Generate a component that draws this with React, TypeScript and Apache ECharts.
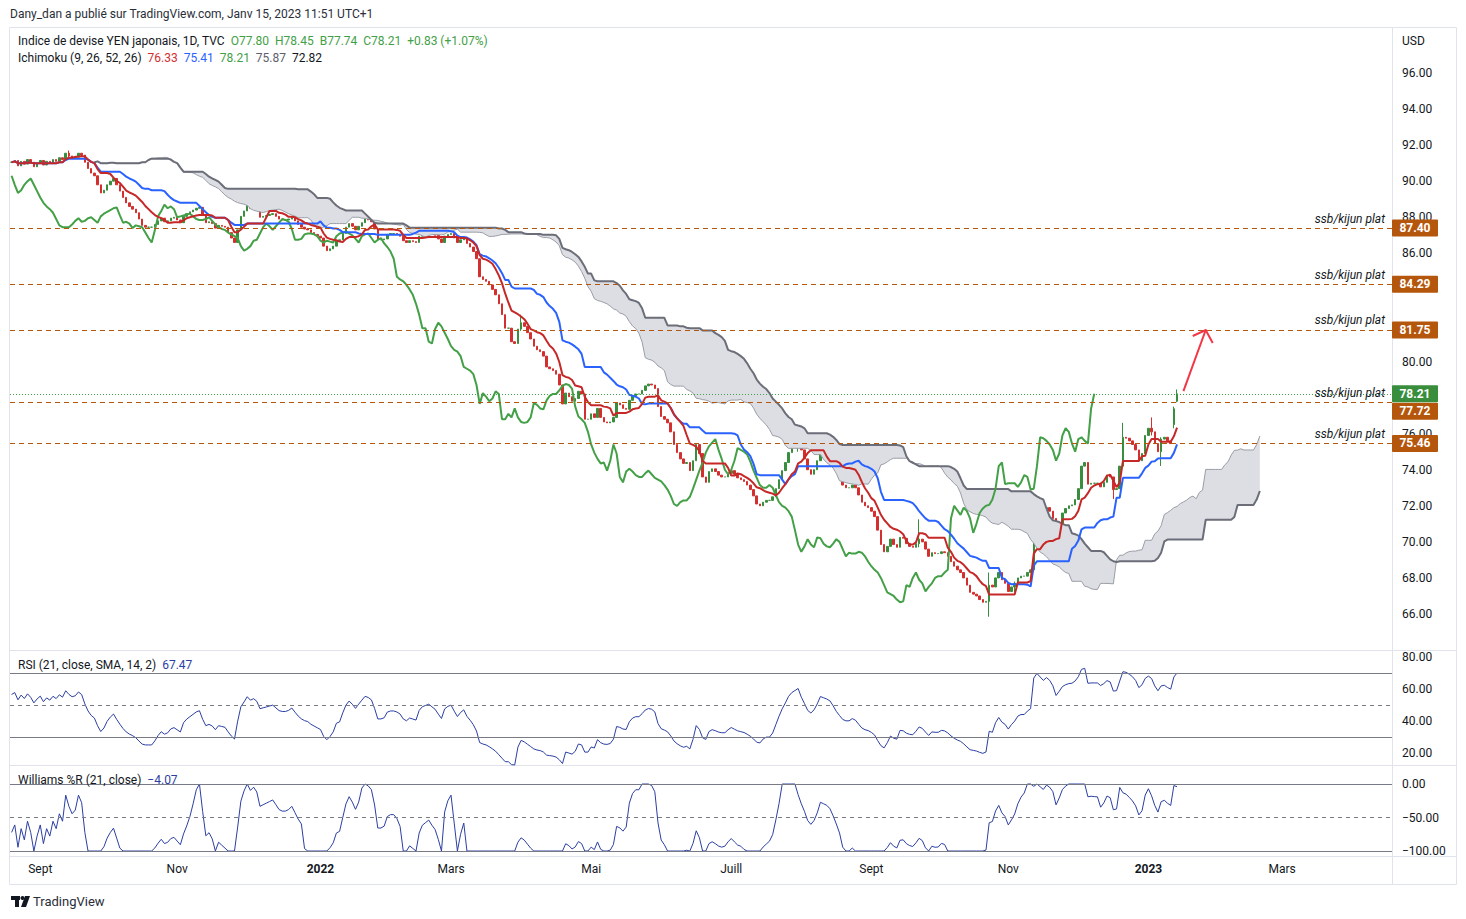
import React, { useEffect, useRef } from 'react';
import * as echarts from 'echarts';

// ---------- data ----------
const START_DATE = '2021-08-19';
const FUTURE_BARS = 67;

const closes: number[] = [
  91.05, 91.15, 90.85, 91.1, 90.95, 91.2, 91.05, 90.8, 91.0, 91.15,
  90.9, 91.1, 91.0, 91.2, 91.1, 91.3, 91.2, 91.55, 91.4, 91.3,
  91.35, 91.55, 91.45, 91.05, 90.7, 90.45, 90.3, 89.8, 89.35, 89.5,
  89.8, 90.0, 90.15, 89.8, 89.45, 89.1, 88.8, 88.6, 88.45, 88.25,
  87.9, 87.55, 87.45, 87.45, 87.45, 87.6, 87.8, 87.95, 87.75, 87.8,
  87.95, 88.0, 87.85, 87.7, 88.05, 88.2, 88.3, 88.4, 88.5, 88.55,
  88.1, 87.7, 87.75, 87.65, 87.4, 87.55, 87.5, 87.45, 87.15, 86.85,
  86.6, 87.3, 88.05, 88.35, 88.7, 88.5, 88.6, 88.45, 88.0, 88.05,
  88.1, 88.15, 88.2, 88.05, 87.9, 87.85, 87.85, 87.9, 88.0, 87.8,
  87.6, 87.45, 87.35, 87.3, 87.15, 87.05, 86.95, 86.85, 86.4, 86.15,
  86.25, 86.4, 86.7, 86.75, 87.1, 87.45, 87.65, 87.5, 87.3, 87.5,
  87.7, 87.9, 87.85, 87.75, 87.35, 86.75, 86.75, 86.8, 87.05, 87.1,
  87.1, 87.05, 86.95, 86.7, 86.6, 86.7, 86.65, 86.6, 86.95, 87.1,
  87.15, 87.2, 87.1, 87.0, 86.8, 86.6, 86.95, 87.05, 87.1, 86.85,
  86.6, 86.75, 86.85, 86.55, 86.35, 86.1, 85.7, 84.7, 84.55, 84.45,
  84.25, 84.0, 83.7, 83.2, 82.6, 81.85, 81.85, 81.1, 81.0, 81.8,
  82.15, 81.95, 81.6, 81.25, 80.85, 80.65, 80.55, 80.3, 79.7, 79.6,
  79.5, 79.3, 78.7, 77.65, 78.25, 78.05, 77.8, 77.95, 78.35, 78.2,
  76.8, 76.8, 77.1, 76.9, 77.4, 76.9, 76.65, 76.6, 76.65, 76.9,
  77.7, 77.6, 77.4, 77.35, 77.85, 78.1, 78.2, 78.2, 78.4, 78.65,
  78.75, 78.7, 78.5, 77.5, 76.95, 76.8, 76.6, 76.1, 75.4, 74.95,
  74.6, 74.35, 74.4, 73.95, 74.5, 75.4, 74.9, 73.6, 73.3, 73.9,
  74.05, 73.9, 73.7, 73.6, 73.6, 73.8, 73.95, 73.75, 73.55, 73.45,
  73.35, 73.15, 72.9, 72.55, 72.1, 72.0, 72.2, 72.3, 72.3, 72.5,
  72.95, 73.45, 73.95, 74.4, 74.95, 75.3, 75.5, 75.7, 75.1, 74.6,
  74.0, 73.75, 74.0, 74.5, 75.2, 75.1, 75.0, 74.85, 74.45, 73.95,
  73.55, 73.15, 73.0, 73.0, 73.15, 73.0, 72.6, 72.2, 72.0, 71.9,
  71.7, 71.4, 70.65, 69.85, 69.45, 69.75, 70.15, 69.85, 69.7, 70.25,
  70.2, 69.9, 69.75, 69.7, 69.9, 70.15, 70.0, 69.6, 69.2, 69.4,
  69.35, 69.35, 69.45, 69.4, 69.2, 68.9, 68.65, 68.45, 68.3, 68.0,
  67.6, 67.2, 67.1, 67.0, 66.8, 66.65, 66.7, 67.6, 67.5, 68.0,
  68.3, 67.9, 67.7, 67.25, 67.5, 67.7, 68.0, 68.1, 68.1, 68.3,
  68.45, 71.3, 72.0, 71.75, 71.5, 71.9, 71.7, 71.3, 70.5, 71.0,
  71.6, 71.85, 72.0, 72.05, 72.35, 72.95, 74.2, 74.4, 73.2, 73.25,
  73.25, 73.25, 73.05, 73.3, 73.7, 73.6, 72.9, 72.95, 74.2, 75.8,
  75.75, 75.6, 75.4, 75.1, 74.5, 74.9, 75.9, 76.3, 76.1, 75.45,
  75.0, 75.7, 75.8, 75.6, 75.45, 77.38, 78.21,
];

// visible wicks / opens: [bar, open (null = previous close), high, low]
const candleExtremes: Array<[number, number | null, number, number]> = [
  [18, null, 91.7, 91.2],
  [160, null, 82.6, 81.7],
  [247, null, 76.4, 75.0],
  [285, null, 71.25, 69.7],
  [307, null, 68.3, 65.85],
  [315, null, 67.8, 67.19],
  [321, null, 71.5, 68.4],
  [346, null, 73.6, 72.37],
  [349, null, 76.6, 74.2],
  [358, null, 76.9, 75.9],
  [361, null, 75.8, 74.21],
  [365, 76.5, 77.5, 76.3],
  [366, 77.8, 78.45, 77.74],
];

const levelValues = [87.4, 84.29, 81.75, 77.72, 75.46];
const levelLabels = ['87.40', '84.29', '81.75', '77.72', '75.46'];
const levelNote = 'ssb/kijun plat';
const lastClose = 78.21;
const lastCloseLabel = '78.21';
// price-scale ticks hidden behind the level boxes in the reference
const hiddenPriceTicks = [84, 82, 78];

const monthLabels: Array<[string, string, boolean]> = [
  ['2021-09', 'Sept', false], ['2021-11', 'Nov', false], ['2022-01', '2022', true],
  ['2022-03', 'Mars', false], ['2022-05', 'Mai', false], ['2022-07', 'Juill', false],
  ['2022-09', 'Sept', false], ['2022-11', 'Nov', false], ['2023-01', '2023', true],
  ['2023-03', 'Mars', false],
];

const rsiBands = [70, 50, 30];
const wprBands = [0, -50, -100];
const arrowFrom: [number, number] = [368, 78.36];
const arrowTo: [number, number] = [375, 81.75];

// ---------- styles ----------
const FONT = 'Roboto, "Liberation Sans", Arial, sans-serif';
const TXT = '#131722';
const ORANGE = '#b5560d';
const GREEN = '#43a047';
const CANDLE_UP = '#388e3c';
const CANDLE_DOWN = '#d32f2f';
const RED_LINE = '#c62828';
const BLUE_LINE = '#2962ff';
const IND_BLUE = '#2b3fa3';
const BAND = '#787b86';
const FRAME = '#e0e3eb';
const NB = '\u00a0\u00a0';

// ---------- helpers ----------
function buildDates(start: string, count: number): string[] {
  const out: string[] = [];
  const d = new Date(start + 'T00:00:00Z');
  while (out.length < count) {
    const wd = d.getUTCDay();
    if (wd !== 0 && wd !== 6) out.push(d.toISOString().slice(0, 10));
    d.setUTCDate(d.getUTCDate() + 1);
  }
  return out;
}

function buildChart() {
  const N = closes.length;
  const T = N + FUTURE_BARS;
  const dates = buildDates(START_DATE, T);

  const opens = closes.map((c, i) => (i === 0 ? c : closes[i - 1]));
  const highs = closes.map((c, i) => Math.max(c, opens[i]));
  const lows = closes.map((c, i) => Math.min(c, opens[i]));
  for (const [b, o, h, l] of candleExtremes) {
    if (o !== null) opens[b] = o;
    highs[b] = Math.max(h, opens[b], closes[b]);
    lows[b] = Math.min(l, opens[b], closes[b]);
  }

  const mid = (i: number, p: number) => {
    const s = Math.max(0, i - p + 1);
    let hh = -Infinity, ll = Infinity;
    for (let k = s; k <= i; k++) { hh = Math.max(hh, highs[k]); ll = Math.min(ll, lows[k]); }
    return (hh + ll) / 2;
  };

  const tenkan: (number | null)[] = [];
  const kijun: (number | null)[] = [];
  const spanA: (number | null)[] = new Array(T).fill(null);
  const spanB: (number | null)[] = new Array(T).fill(null);
  const chikou: (number | null)[] = new Array(T).fill(null);
  for (let i = 0; i < N; i++) {
    const t = mid(i, 9), k = mid(i, 26);
    tenkan.push(t); kijun.push(k);
    spanA[i + 26] = (t + k) / 2;
    spanB[i + 26] = mid(i, 52);
    if (i >= 26) chikou[i - 26] = closes[i];
  }
  const cloudBase = spanA.map((a, i) => (a === null || spanB[i] === null ? null : Math.min(a, spanB[i] as number)));
  const cloudDiff = spanA.map((a, i) => (a === null || spanB[i] === null ? null : Math.abs(a - (spanB[i] as number))));

  // RSI 21 (Wilder) with a seeded warm-up
  const len = 21;
  const rsi: (number | null)[] = new Array(N).fill(null);
  let ag = 0, al = 0;
  for (let i = 1; i <= len; i++) {
    const d = closes[i] - closes[i - 1];
    ag += Math.max(d, 0); al += Math.max(-d, 0);
  }
  ag /= len; al /= len;
  rsi[0] = al === 0 ? 100 : 100 - 100 / (1 + ag / al);
  for (let i = 1; i < N; i++) {
    const d = closes[i] - closes[i - 1];
    ag = (ag * (len - 1) + Math.max(d, 0)) / len;
    al = (al * (len - 1) + Math.max(-d, 0)) / len;
    rsi[i] = al === 0 ? 100 : 100 - 100 / (1 + ag / al);
  }

  // Williams %R 21 (first bars use the first full window)
  const wpr: number[] = [];
  for (let i = 0; i < N; i++) {
    const e = Math.max(i, len - 1);
    const s = e - len + 1;
    let hh = -Infinity, ll = Infinity;
    for (let k = s; k <= e; k++) { hh = Math.max(hh, highs[k]); ll = Math.min(ll, lows[k]); }
    wpr.push(hh === ll ? -50 : ((hh - closes[i]) / (hh - ll)) * -100);
  }

  const candles = closes.map((c, i) => [opens[i], c, lows[i], highs[i]]);

  const labelByDate = new Map<string, { text: string; bold: boolean }>();
  for (const [ym, text, bold] of monthLabels) {
    const d = dates.find((x) => x.startsWith(ym));
    if (d) labelByDate.set(d, { text, bold });
  }

  const axisLabelBase = { color: TXT, fontSize: 12, fontFamily: FONT };
  const lineBase = { type: 'line', symbol: 'none', silent: true, animation: false };

  const option: any = {
    animation: false,
    backgroundColor: '#ffffff',
    grid: [
      { left: 10, right: 74, top: 73, height: 541, outerBoundsMode: 'none' },
      { left: 10, right: 74, top: 657, height: 96, outerBoundsMode: 'none' },
      { left: 10, right: 74, top: 784, height: 67, outerBoundsMode: 'none' },
    ],
    xAxis: [0, 1, 2].map((g) => ({
      type: 'category',
      gridIndex: g,
      data: dates,
      boundaryGap: true,
      show: g === 2,
      axisLine: { show: false },
      axisTick: { show: false },
      splitLine: { show: false },
      axisLabel: g === 2
        ? {
            ...axisLabelBase,
            margin: 12,
            interval: (_i: number, v: string) => labelByDate.has(v),
            formatter: (v: string) => {
              const m = labelByDate.get(v);
              if (!m) return '';
              return m.bold ? `{b|${m.text}}` : m.text;
            },
            rich: { b: { fontWeight: 'bold', fontSize: 12, fontFamily: FONT, color: TXT } },
          }
        : { show: false },
    })),
    yAxis: [
      {
        type: 'value', gridIndex: 0, position: 'right', min: 66, max: 96, interval: 2,
        splitLine: { show: false }, axisLine: { show: false }, axisTick: { show: false },
        axisLabel: {
          ...axisLabelBase, margin: 10,
          formatter: (v: number) => (hiddenPriceTicks.includes(v) ? '' : v.toFixed(2)),
        },
      },
      {
        type: 'value', gridIndex: 1, position: 'right', min: 20, max: 80, interval: 20,
        splitLine: { show: false }, axisLine: { show: false }, axisTick: { show: false },
        axisLabel: { ...axisLabelBase, margin: 10, formatter: (v: number) => v.toFixed(2) },
      },
      {
        type: 'value', gridIndex: 2, position: 'right', min: -100, max: 0, interval: 50,
        splitLine: { show: false }, axisLine: { show: false }, axisTick: { show: false },
        axisLabel: {
          ...axisLabelBase, margin: 10,
          formatter: (v: number) => (v < 0 ? '\u2212' + Math.abs(v).toFixed(2) : v.toFixed(2)),
        },
      },
    ],
    series: [
      { ...lineBase, name: 'cloudBase', xAxisIndex: 0, yAxisIndex: 0, stack: 'cloud', data: cloudBase, lineStyle: { opacity: 0 } },
      { ...lineBase, name: 'cloudFill', xAxisIndex: 0, yAxisIndex: 0, stack: 'cloud', data: cloudDiff, lineStyle: { opacity: 0 }, areaStyle: { color: '#dcdee3', opacity: 1 } },
      { ...lineBase, name: 'spanA', xAxisIndex: 0, yAxisIndex: 0, data: spanA, lineStyle: { color: '#9a9da6', width: 1 } },
      { ...lineBase, name: 'spanB', xAxisIndex: 0, yAxisIndex: 0, data: spanB, lineStyle: { color: '#6b6e78', width: 2 } },
      { ...lineBase, name: 'chikou', xAxisIndex: 0, yAxisIndex: 0, data: chikou, lineStyle: { color: GREEN, width: 2 } },
      { ...lineBase, name: 'kijun', xAxisIndex: 0, yAxisIndex: 0, data: kijun, lineStyle: { color: BLUE_LINE, width: 2 } },
      { ...lineBase, name: 'tenkan', xAxisIndex: 0, yAxisIndex: 0, data: tenkan, lineStyle: { color: RED_LINE, width: 2 } },
      {
        type: 'candlestick', name: 'price', xAxisIndex: 0, yAxisIndex: 0, data: candles,
        barWidth: 2, clip: false, silent: true, animation: false,
        itemStyle: { color: CANDLE_UP, color0: CANDLE_DOWN, borderColor: CANDLE_UP, borderColor0: CANDLE_DOWN, borderWidth: 1 },
        markLine: {
          silent: true, symbol: ['none', 'none'], animation: false, label: { show: false },
          data: [
            ...levelValues.map((v) => ({ yAxis: v, lineStyle: { color: ORANGE, type: [5, 4], width: 1.2 } })),
            { yAxis: lastClose, lineStyle: { color: GREEN, type: [1, 2], width: 1 } },
          ],
        },
      },
      {
        ...lineBase, name: 'rsi', xAxisIndex: 1, yAxisIndex: 1, data: rsi, clip: false,
        lineStyle: { color: IND_BLUE, width: 1 },
        markLine: {
          silent: true, symbol: ['none', 'none'], animation: false, label: { show: false },
          data: rsiBands.map((v) => ({ yAxis: v, lineStyle: { color: BAND, width: 1, type: v === 50 ? [4, 4] : 'solid' } })),
        },
      },
      {
        ...lineBase, name: 'wpr', xAxisIndex: 2, yAxisIndex: 2, data: wpr, clip: false,
        lineStyle: { color: IND_BLUE, width: 1 },
        markLine: {
          silent: true, symbol: ['none', 'none'], animation: false, label: { show: false },
          data: wprBands.map((v) => ({ yAxis: v, lineStyle: { color: BAND, width: 1, type: v === -50 ? [4, 4] : 'solid' } })),
        },
      },
    ],
  };
  return option;
}

function text(x: number, y: number, str: string, extra: any = {}, z = 50) {
  return {
    type: 'text', x, y, z, silent: true,
    style: { text: str, fill: TXT, fontSize: 12, fontFamily: FONT, align: 'left', verticalAlign: 'middle', ...extra },
  };
}

function buildOverlay(chart: any) {
  const yPx = (v: number) => chart.convertToPixel({ yAxisIndex: 0 }, v) as number;
  const xPx = (b: number) => chart.convertToPixel({ xAxisIndex: 0 }, b) as number;
  const axisX = 1392;
  const els: any[] = [];

  // frame
  els.push({ type: 'rect', z: 1, silent: true, shape: { x: 9.5, y: 27.5, width: 1447, height: 857 }, style: { fill: 'none', stroke: FRAME, lineWidth: 1 } });
  for (const y of [650.5, 765.5, 856.5]) {
    els.push({ type: 'line', z: 1, silent: true, shape: { x1: 9.5, y1: y, x2: 1456.5, y2: y }, style: { stroke: FRAME, lineWidth: 1 } });
  }
  els.push({ type: 'line', z: 1, silent: true, shape: { x1: axisX + 0.5, y1: 27.5, x2: axisX + 0.5, y2: 884.5 }, style: { stroke: FRAME, lineWidth: 1 } });

  // header & legends
  els.push(text(10, 14, 'Dany_dan a publié sur TradingView.com, Janv 15, 2023 11:51 UTC+1', { fill: '#2a2e39' }));
  els.push({
    type: 'text', x: 18, y: 41, z: 50, silent: true,
    style: {
      text: `{a|Indice de devise YEN japonais, 1D, TVC}{g|${NB}O77.80${NB}H78.45${NB}B77.74${NB}C78.21${NB}+0.83 (+1.07%)}`,
      fontSize: 12, fontFamily: FONT, verticalAlign: 'middle',
      rich: { a: { fill: TXT, fontSize: 12, fontFamily: FONT }, g: { fill: GREEN, fontSize: 12, fontFamily: FONT } },
    },
  });
  els.push({
    type: 'text', x: 18, y: 58, z: 50, silent: true,
    style: {
      text: `{a|Ichimoku (9, 26, 52, 26)}{r|${NB}76.33}{b|${NB}75.41}{g|${NB}78.21}{s|${NB}75.87}{k|${NB}72.82}`,
      fontSize: 12, fontFamily: FONT, verticalAlign: 'middle',
      rich: {
        a: { fill: TXT, fontSize: 12, fontFamily: FONT },
        r: { fill: '#d32f2f', fontSize: 12, fontFamily: FONT },
        b: { fill: BLUE_LINE, fontSize: 12, fontFamily: FONT },
        g: { fill: GREEN, fontSize: 12, fontFamily: FONT },
        s: { fill: '#5d606b', fontSize: 12, fontFamily: FONT },
        k: { fill: TXT, fontSize: 12, fontFamily: FONT },
      },
    },
  });
  els.push({
    type: 'text', x: 18, y: 665, z: 50, silent: true,
    style: {
      text: `{a|RSI (21, close, SMA, 14, 2)}{b|${NB}67.47}`, fontSize: 12, fontFamily: FONT, verticalAlign: 'middle',
      rich: { a: { fill: TXT, fontSize: 12, fontFamily: FONT }, b: { fill: IND_BLUE, fontSize: 12, fontFamily: FONT } },
    },
  });
  els.push({
    type: 'text', x: 18, y: 780, z: 50, silent: true,
    style: {
      text: `{a|Williams %R (21, close)}{b|${NB}\u22124.07}`, fontSize: 12, fontFamily: FONT, verticalAlign: 'middle',
      rich: { a: { fill: TXT, fontSize: 12, fontFamily: FONT }, b: { fill: IND_BLUE, fontSize: 12, fontFamily: FONT } },
    },
  });
  els.push(text(1402, 41, 'USD'));

  // level notes and price boxes
  levelValues.forEach((v) => {
    const y = yPx(v);
    els.push(text(1385, y - 9.5, levelNote, { align: 'right', fontStyle: 'italic', fontSize: 12 }, 55));
  });
  const box = (y: number, label: string, color: string) => {
    els.push({ type: 'rect', z: 60, silent: true, shape: { x: axisX, y: y - 8.5, width: 46, height: 17, r: 1 }, style: { fill: color } });
    els.push(text(axisX + 23, y, label, { fill: '#ffffff', align: 'center', fontWeight: 'bold' }, 61));
  };
  levelValues.forEach((v, i) => {
    const y = yPx(v);
    const shift = v === 77.72 ? 8.5 : 0;
    box(y + shift, levelLabels[i], ORANGE);
  });
  box(yPx(lastClose), lastCloseLabel, CANDLE_UP);

  // red arrow
  const x0 = xPx(arrowFrom[0]), y0 = yPx(arrowFrom[1]);
  const x1 = xPx(arrowTo[0]), y1 = yPx(arrowTo[1]);
  els.push({ type: 'polyline', z: 70, silent: true, shape: { points: [[x0, y0], [x1, y1]] }, style: { stroke: '#f23645', lineWidth: 2, fill: 'none' } });
  els.push({ type: 'polyline', z: 70, silent: true, shape: { points: [[x1 - 13, y1 + 6], [x1, y1], [x1 + 7, y1 + 13]] }, style: { stroke: '#f23645', lineWidth: 2, fill: 'none' } });

  // TradingView logo
  els.push({ type: 'rect', z: 50, silent: true, shape: { x: 11, y: 896, width: 9, height: 4 }, style: { fill: TXT } });
  els.push({ type: 'rect', z: 50, silent: true, shape: { x: 15, y: 896, width: 4, height: 11 }, style: { fill: TXT } });
  els.push({ type: 'circle', z: 50, silent: true, shape: { cx: 22.5, cy: 898, r: 2 }, style: { fill: TXT } });
  els.push({ type: 'polygon', z: 50, silent: true, shape: { points: [[25, 896], [30, 896], [26, 907], [21, 907]] }, style: { fill: TXT } });
  els.push(text(33, 901, 'TradingView', { fontSize: 13, fill: '#2a2e39' }));

  return els;
}

export default function App() {
  const ref = useRef<HTMLDivElement>(null);
  useEffect(() => {
    if (!ref.current) return;
    const chart = echarts.init(ref.current, undefined, { renderer: 'svg' });
    chart.setOption(buildChart());
    chart.setOption({ graphic: buildOverlay(chart) });
    return () => chart.dispose();
  }, []);
  return (
    <div
      ref={ref}
      style={{ position: 'absolute', left: 0, top: 0, width: 1466, height: 919, background: '#ffffff' }}
    />
  );
}
